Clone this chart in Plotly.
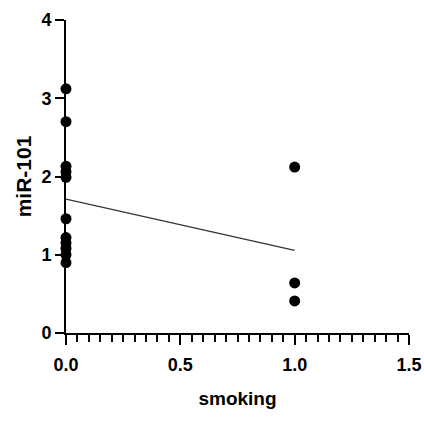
import numpy as np
import plotly.graph_objects as go

# smoking status (0 = non-smoker, 1 = smoker) and miR-101 expression
smoking = [0, 0, 0, 0, 0, 0, 0, 0, 0, 0, 0, 1, 1, 1]
mir101 = [3.12, 2.70, 2.13, 2.06, 1.99, 1.46, 1.22, 1.15, 1.08, 1.00, 0.90,
          2.12, 0.64, 0.41]

x_ticks = [0.0, 0.5, 1.0, 1.5]
x_tick_labels = ["0.0", "0.5", "1.0", "1.5"]
y_ticks = [0, 1, 2, 3, 4]

# least-squares regression line over the observed smoking range
slope, intercept = np.polyfit(smoking, mir101, 1)
fit_x = [min(smoking), max(smoking)]
fit_y = [intercept + slope * v for v in fit_x]

font_family = "Liberation Sans, Arial, sans-serif"

fig = go.Figure()
fig.add_trace(go.Scatter(
    x=fit_x, y=fit_y, mode="lines",
    line=dict(color="#333333", width=1.2),
    cliponaxis=False, showlegend=False,
))
fig.add_trace(go.Scatter(
    x=smoking, y=mir101, mode="markers",
    marker=dict(color="black", size=11),
    cliponaxis=False, showlegend=False,
))

fig.update_layout(
    width=424, height=421,
    margin=dict(l=66, r=15, t=20, b=88),
    paper_bgcolor="white", plot_bgcolor="white",
    font=dict(family=font_family, color="black"),
    xaxis=dict(
        range=[0, 1.5], tickvals=x_ticks, ticktext=x_tick_labels,
        automargin=False,
        showline=True, linecolor="black", linewidth=2,
        ticks="outside", ticklen=10, tickwidth=2, tickcolor="black",
        ticklabelstandoff=4,
        minor=dict(dtick=0.05, ticks="outside", ticklen=7, tickwidth=1.5,
                   tickcolor="black", showgrid=False),
        showgrid=False, zeroline=False,
        tickfont=dict(size=18, family=font_family, weight="bold"),
        title=dict(text="smoking", standoff=18,
                   font=dict(size=19, family=font_family, weight="bold")),
    ),
    yaxis=dict(
        range=[0, 4], tickvals=y_ticks,
        automargin=False,
        showline=True, linecolor="black", linewidth=2,
        ticks="outside", ticklen=9, tickwidth=2, tickcolor="black",
        showgrid=False, zeroline=False,
        tickfont=dict(size=18, family=font_family, weight="bold"),
        title=dict(text="miR-101", standoff=4,
                   font=dict(size=21, family=font_family, weight="bold")),
    ),
)

fig.write_html("out.html")
